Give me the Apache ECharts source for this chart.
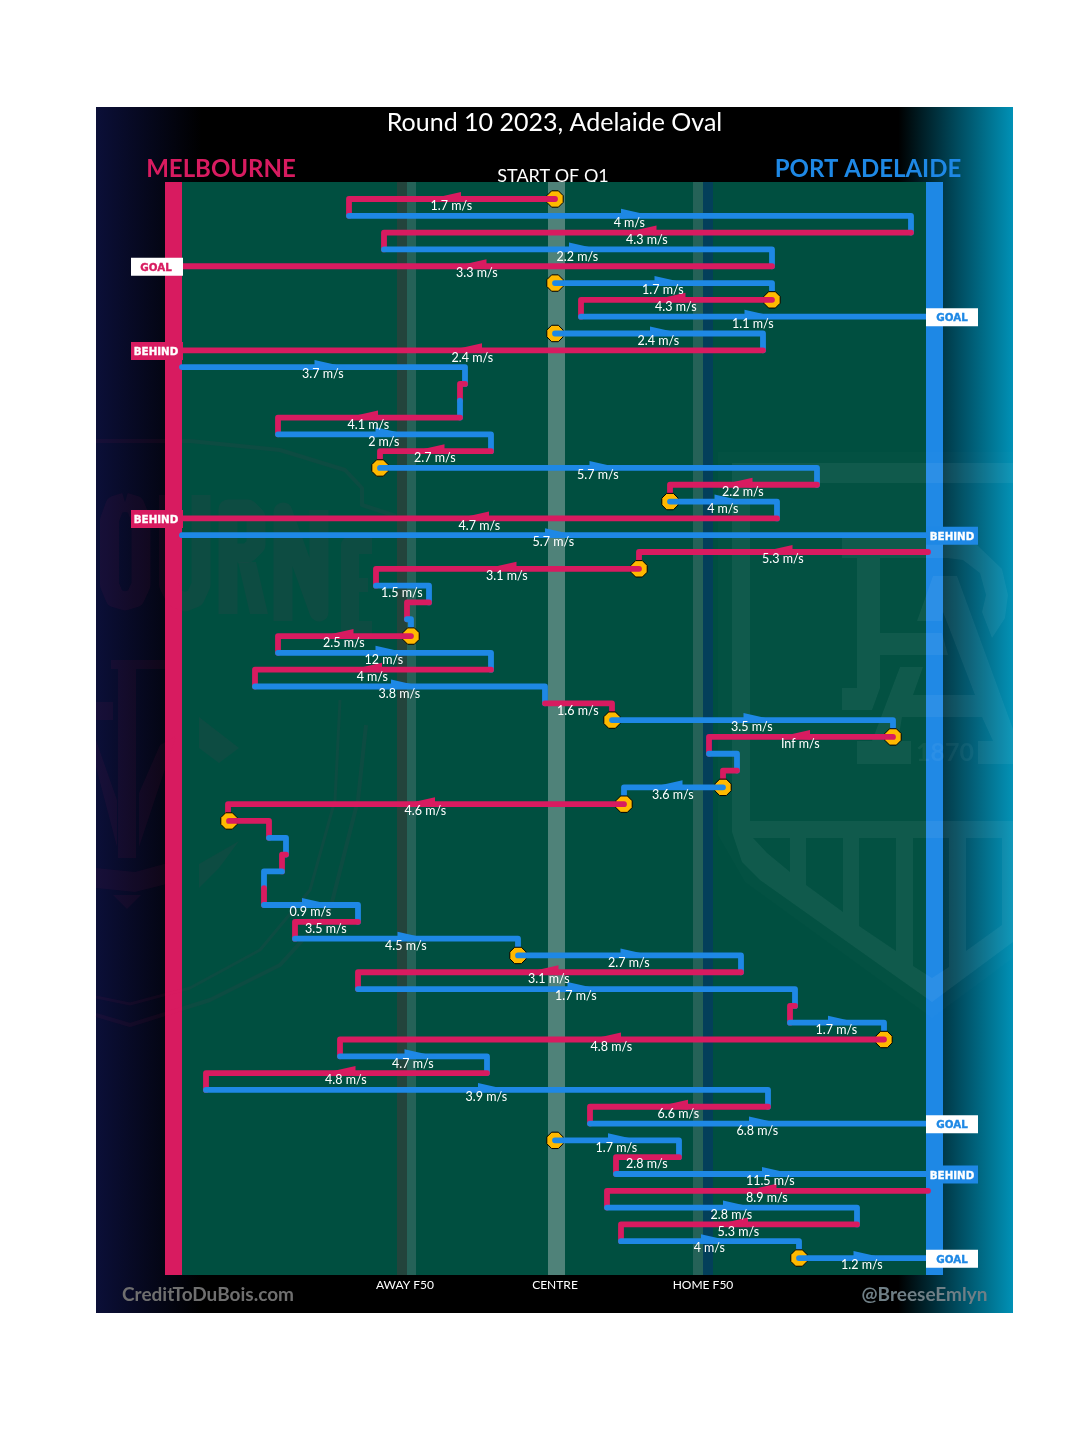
<!DOCTYPE html>
<html>
<head>
<meta charset="utf-8">
<style>html,body{margin:0;padding:0;background:#fff}#c{width:1080px;height:1435px}</style>
<script src="https://cdn.jsdelivr.net/npm/echarts@6/dist/echarts.min.js"></script>
</head>
<body>
<div id="c"></div>
<script>
// Field position of each passage of play (0 = centre, -372 = Melbourne goal, +372 = Port goal); index = sequence step
const segmentStart = [0,-206,356,-171,217,0,217,26,0,208,-373,-90,-95,-95,-277,-64,-175,262,115,222,-373,373,84,-179,-126,-148,-144,-277,-64,-300,-10,57,338,154,182,168,69,-326,-286,-269,-273,-291,-291,-197,-260,-37,186,-197,240,235,329,-215,-68,-349,213,35,0,124,61,373,52,302,66,244];
const segmentEnd   = [-206,356,-171,217,-372,217,26,371,208,-372,-90,-95,-95,-277,-64,-175,262,115,222,-372,371,84,-179,-126,-148,-144,-277,-64,-300,-10,57,338,154,182,168,69,-327,-286,-269,-273,-291,-291,-197,-260,-37,186,-197,240,235,329,-215,-68,-349,213,35,371,124,61,371,52,302,66,244,371];
const segmentTeam  = ['M','P','M','P','M','P','M','P','P','M','P','M','P','M','P','M','P','M','P','M','P','M','M','P','M','P','M','P','M','P','M','P','M','P','M','P','M','M','P','M','P','M','P','M','P','P','M','P','M','P','M','P','M','P','M','P','P','M','P','M','P','M','P','P'];
const segmentSpeed = ['1.7 m/s','4 m/s','4.3 m/s','2.2 m/s','3.3 m/s','1.7 m/s','4.3 m/s','1.1 m/s','2.4 m/s','2.4 m/s','3.7 m/s','','','4.1 m/s','2 m/s','2.7 m/s','5.7 m/s','2.2 m/s','4 m/s','4.7 m/s','5.7 m/s','5.3 m/s','3.1 m/s','1.5 m/s','','','2.5 m/s','12 m/s','4 m/s','3.8 m/s','1.6 m/s','3.5 m/s','Inf m/s','','','3.6 m/s','4.6 m/s','','','','','','0.9 m/s','3.5 m/s','4.5 m/s','2.7 m/s','3.1 m/s','1.7 m/s','','1.7 m/s','4.8 m/s','4.7 m/s','4.8 m/s','3.9 m/s','6.6 m/s','6.8 m/s','1.7 m/s','2.8 m/s','11.5 m/s','8.9 m/s','2.8 m/s','5.3 m/s','4 m/s','1.2 m/s'];
const bounceSteps  = [0,5,6,8,16,18,22,26,31,32,35,36,37,45,50,56,63];
const scoreSteps   = [4,7,9,19,20,55,58,63];
const scoreLabels  = ['GOAL','GOAL','BEHIND','BEHIND','BEHIND','GOAL','BEHIND','GOAL'];
const tickValues   = [-150,0,148];
const tickLabels   = ['AWAY F50','CENTRE','HOME F50'];

const RED='#D81B60', BLUE='#1E88E5', FONT='Lato, "Open Sans", sans-serif';
const teamColor = t => t==='M'?RED:BLUE;
const steps = segmentStart.map((_,i)=>i);

function rect(x,y,w,h,fill){return {type:'rect',silent:true,shape:{x,y,width:w,height:h},style:{fill}};}
function poly(points,fill,opacity){return {type:'polygon',silent:true,shape:{points},style:{fill,opacity}};}
function txt(text,x,y,font,fill,opacity){return {type:'text',silent:true,x,y,style:{text,font,fill,align:'center',verticalAlign:'middle',opacity:opacity==null?1:opacity}};}
function line(points,w,op){return {type:'polyline',silent:true,shape:{points},style:{stroke:RED,lineWidth:w,fill:null,opacity:op,lineJoin:'round',lineCap:'butt'}};}
function keyhole(outer,holes){ // outer polygon, holes wound the other way and joined by seams
  let pts=outer.slice();
  const a=pts[pts.length-1];
  holes.forEach(h=>{pts=pts.concat(h,[h[0]],[a]);});
  return pts;
}
const W1=0.055, R1=0.06;
const shieldPanels=[[[753,838],[767,853],[790,872],[790,838]],[[806,838],[806,885],[843,912],[843,838]],[[859,838],[859,926],[896,951],[896,838]],[[913,838],[913,966],[932,978],[949,967],[949,838]],[[966,838],[966,951],[1002,925],[1002,838]]];
const graphicEls=[
  {type:'rect',silent:true,shape:{x:96,y:107,width:917,height:1206},style:{fill:{type:'linear',x:0,y:0,x2:1,y2:0,colorStops:[{offset:0,color:'#0b0f38'},{offset:0.115,color:'#000'},{offset:0.875,color:'#000'},{offset:1,color:'#0091b6'}]}}},
  txt('START OF Q1',553,176,'18px '+FONT,'#fff'),
  txt('MELBOURNE',221,169,'bold 24px '+FONT,RED),
  txt('PORT ADELAIDE',868,169,'bold 24px '+FONT,BLUE),
  txt('CreditToDuBois.com',208,1295,'bold 19px '+FONT,'#6f6f6f'),
  txt('@BreeseEmlyn',924.5,1295,'bold 19px '+FONT,'#6f7f86'),
  rect(182,182,744,1093,'#004F40'),
  rect(397,182,10,1093,'#23443C'),
  rect(407,182,9,1093,'#256258'),
  rect(548,182,17,1093,'#4F8279'),
  rect(693,182,10,1093,'#256258'),
  rect(703,182,10,1093,'#033F5A'),
  rect(165,182,17,1093,RED),
  rect(926,182,17,1093,BLUE),
  // Port Adelaide watermark
  poly([[718,452],[1013,452],[1013,958],[932,1018],[745,882],[718,835]],'#fff',0.012),
  poly(keyhole([[732,463],[1013,463],[1013,483],[750,483],[750,821],[1013,821],[1013,942],[932,1002],[760,880],[742,862],[732,832]],shieldPanels),'#fff',W1),
  poly([[842,538],[947,538],[977,545],[1002,569],[1008,595],[1005,618],[992,638],[982,612],[986,595],[980,573],[963,560],[947,558],[880,558],[880,633],[942,633],[948,655],[880,655],[880,688],[872,710],[842,710],[842,688],[857,688],[857,558],[842,558]],'#fff',W1),
  poly([[933,576],[957,576],[1013,729],[1013,764],[978,764],[978,741],[993,741],[982,717],[902,717],[898,741],[911,741],[911,764],[857,764],[857,741],[872,741],[900,667],[923,667],[913,695],[975,695],[943,612],[942,621],[917,621]],'#fff',W1),
  txt('1870',945,753,'bold 25px '+FONT,'#fff',0.05),
  // Melbourne watermark: heavy condensed letters of the club name
  line([[125,502],[135,505],[141,520],[141,585],[135,598],[125,601],[115,598],[109.5,585],[109.5,520],[115,505],[125,502]],19,R1),
  line([[168.5,495],[168.5,585],[175,598],[185,602],[195,598],[201,585],[201,495]],19,R1),
  line([[228,614],[228,509],[248,509],[256,517],[256,545],[248,553],[228,553]],19,R1),
  poly([[238,562],[256,562],[268,614],[250,614]],RED,R1),
  line([[283,621],[283,512],[319,612],[319,510]],19,R1),
  line([[372,545],[350,545],[350,630],[372,630]],18,R1),
  poly([[359,578],[368,578],[368,592],[359,592]],RED,R1),
  poly([[118,669],[136,669],[136,858],[118,858]],RED,R1),
  poly([[111,660],[171,660],[171,669],[111,669]],RED,R1),
  poly([[96,702],[113,702],[113,720],[96,720]],RED,R1),
  poly([[96,767],[117,847],[117,800],[96,740]],RED,R1),
  poly([[176,736],[139,847],[139,793],[160,745]],RED,R1),
  poly([[96,868],[135,872],[171,862],[171,883],[135,892],[96,888]],RED,R1),
  poly([[113,895],[141,895],[127,909]],RED,R1),
  poly([[199,717],[239,748],[219,763],[199,748]],RED,R1),
  poly([[199,864],[239,841],[219,868],[199,888]],RED,R1),
  line([[96,441],[190,441],[280,450],[345,470],[362,488],[362,505],[396,516]],4,R1),
  line([[96,997],[130,1004],[190,988],[260,950],[310,890],[335,800],[340,700]],3,R1),
  line([[96,1015],[130,1025],[210,1000],[280,965],[330,910],[358,800],[366,725]],4,R1)
];

const option={
  animation:false,
  backgroundColor:'#fff',
  title:{text:'Round 10 2023, Adelaide Oval',left:549.5,top:105,textAlign:'center',textStyle:{color:'#fff',fontFamily:FONT,fontWeight:'normal',fontSize:25}},
  graphic:{elements:graphicEls},
  grid:{left:183,width:744,top:199-16.81,height:16.81*65},
  xAxis:{type:'value',min:-372,max:372,axisLine:{show:false},axisTick:{show:false},splitLine:{show:false},
    axisLabel:{show:true,customValues:tickValues,color:'#fff',fontSize:12,fontFamily:FONT,margin:4,formatter:v=>tickLabels[tickValues.indexOf(v)]||''}},
  yAxis:{type:'value',inverse:true,min:-1,max:64,show:false},
  series:[
    {type:'custom',name:'plays',z:3,coordinateSystem:'cartesian2d',encode:{x:1,y:0},
     data:steps.map(i=>[i,segmentStart[i]]),
     renderItem(p,api){
       const i=api.value(0),s=segmentStart[i],e=segmentEnd[i],col=teamColor(segmentTeam[i]);
       const a=api.coord([s,i]),b=api.coord([e,i]),ch=[];
       if(bounceSteps.includes(i)){
         const R=8.2,k=R*0.41,c=a;
         ch.push({type:'polygon',shape:{points:[[c[0]-k,c[1]-R],[c[0]+k,c[1]-R],[c[0]+R,c[1]-k],[c[0]+R,c[1]+k],[c[0]+k,c[1]+R],[c[0]-k,c[1]+R],[c[0]-R,c[1]+k],[c[0]-R,c[1]-k]]},style:{fill:'#FFB900',stroke:'#000',lineWidth:1}});
       }
       const pts=[a,b];
       if(!scoreSteps.includes(i)&&i<steps.length-1)pts.push(api.coord([e,i+1]));
       ch.push({type:'polyline',shape:{points:pts},style:{stroke:col,lineWidth:5.8,fill:null,lineCap:'round',lineJoin:'round'}});
       if(segmentSpeed[i]&&Math.abs(b[0]-a[0])>=80){
         const m=(a[0]+b[0])/2,d=Math.sign(b[0]-a[0]),y=b[1];
         ch.push({type:'polygon',shape:{points:[[m-9*d,y-7],[m+22*d,y],[m-9*d,y+2.9]]},style:{fill:col}});
       }
       return {type:'group',children:ch};
     }},
    {type:'custom',name:'speeds',z:5,coordinateSystem:'cartesian2d',encode:{x:1,y:0},
     data:steps.filter(i=>segmentSpeed[i]).map(i=>[i,(segmentStart[i]+segmentEnd[i])/2]),
     renderItem(p,api){
       const i=api.value(0),c=api.coord([api.value(1),i]);
       return {type:'text',style:{text:segmentSpeed[i],x:c[0]-0.7,y:c[1]+7.2,align:'center',verticalAlign:'middle',fill:'#fff',font:'12.5px '+FONT}};
     }},
    {type:'custom',name:'scores',z:6,coordinateSystem:'cartesian2d',encode:{x:1,y:0},
     data:scoreSteps.map(i=>[i,segmentEnd[i]]),
     renderItem(p,api){
       const i=api.value(0),idx=scoreSteps.indexOf(i),lab=scoreLabels[idx],col=teamColor(segmentTeam[i]),c=api.coord([api.value(1),i]);
       const left=segmentTeam[i]==='M',x=left?131:926,goal=lab==='GOAL',f=goal?'#fff':col,t=goal?col:'#fff';
       return {type:'group',children:[
         {type:'rect',shape:{x,y:c[1]-8.4,width:52,height:18},style:{fill:f}},
         {type:'text',style:{text:lab,x:x+26-(left?1:0),y:c[1]+2,align:'center',verticalAlign:'middle',fill:t,stroke:t,lineWidth:0.35,font:'bold 10.3px "DejaVu Sans"'}}
       ]};
     }}
  ]
};
echarts.init(document.getElementById('c'),null,{renderer:'canvas',width:1080,height:1435}).setOption(option);
</script>
</body>
</html>
